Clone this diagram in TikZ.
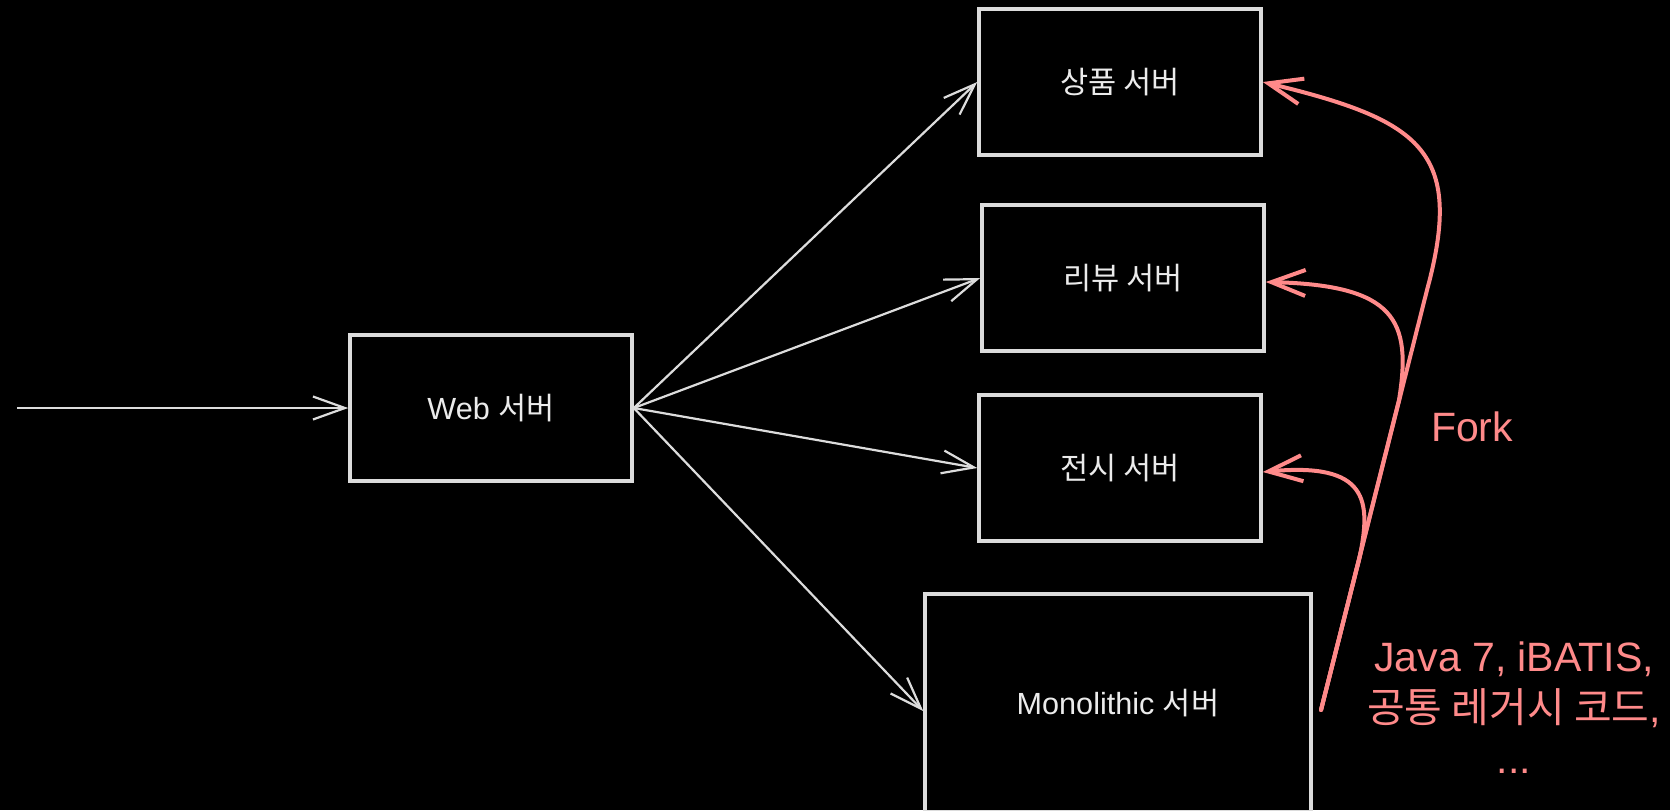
\documentclass[tikz,border=0pt]{standalone}
\usepackage{fontspec}
\setmainfont{Liberation Sans}
\newfontfamily\krfont{Noto Sans CJK KR}
\usetikzlibrary{arrows.meta}
\definecolor{boxgrey}{HTML}{DCDCDC}
\definecolor{forkred}{HTML}{FF8A8A}

\begin{document}
\begin{tikzpicture}[x=0.5pt,y=-0.5pt,
  server/.style={draw=boxgrey,line width=1.8pt,text=white!92!black,minimum width=141pt,minimum height=73pt,font=\fontsize{15.3}{18}\selectfont},
  call/.style={draw=boxgrey,line width=1.1pt,-{Straight Barb[length=16pt,width=11.5pt]}},
  forkline/.style={draw=forkred,line width=2pt,line cap=round,-{Straight Barb[length=17pt,width=13pt]}},
  note/.style={text=forkred,font=\fontsize{20.5}{25.5}\selectfont,align=center}]
  \path[use as bounding box,fill=black] (0,0) rectangle (1670,810);

  \node[server] (web) at (491,408) {Web {\krfont 서버}};
  \node[server] (sangpum) at (1120,82) {{\krfont 상품 서버}};
  \node[server] (review) at (1123,278) {{\krfont 리뷰 서버}};
  \node[server] (jeonsi) at (1120,468) {{\krfont 전시 서버}};
  \node[server,minimum width=193pt,minimum height=109pt] (mono) at (1118,703) {Monolithic {\krfont 서버}};

  \coordinate (in) at (17,408);
  \draw[call] (in) -- (web);
  \foreach \t in {sangpum,review,jeonsi}
    \draw[call] (web.east) -- (\t.west);
  \draw[call] (web.east) -- ([yshift=-4pt]mono.west);

  \coordinate (fork) at (1321,710);
  \draw[forkline] (fork) -- (1427,290) .. controls (1465,150) and (1420,120) .. (sangpum.east);
  \draw[forkline] (fork) -- (1399,400) .. controls (1412,320) and (1395,285) .. ([yshift=-2pt]review.east);
  \draw[forkline] (fork) -- (1359,560) .. controls (1372,500) and (1368,462) .. ([yshift=-2pt]jeonsi.east);

  \node[note] (forklabel) at (1472,427) {Fork};
  \node[note] (legacy) at (1514,708) {Java 7, iBATIS,\\{\krfont 공통 레거시 코드},\\...};
\end{tikzpicture}
\end{document}
